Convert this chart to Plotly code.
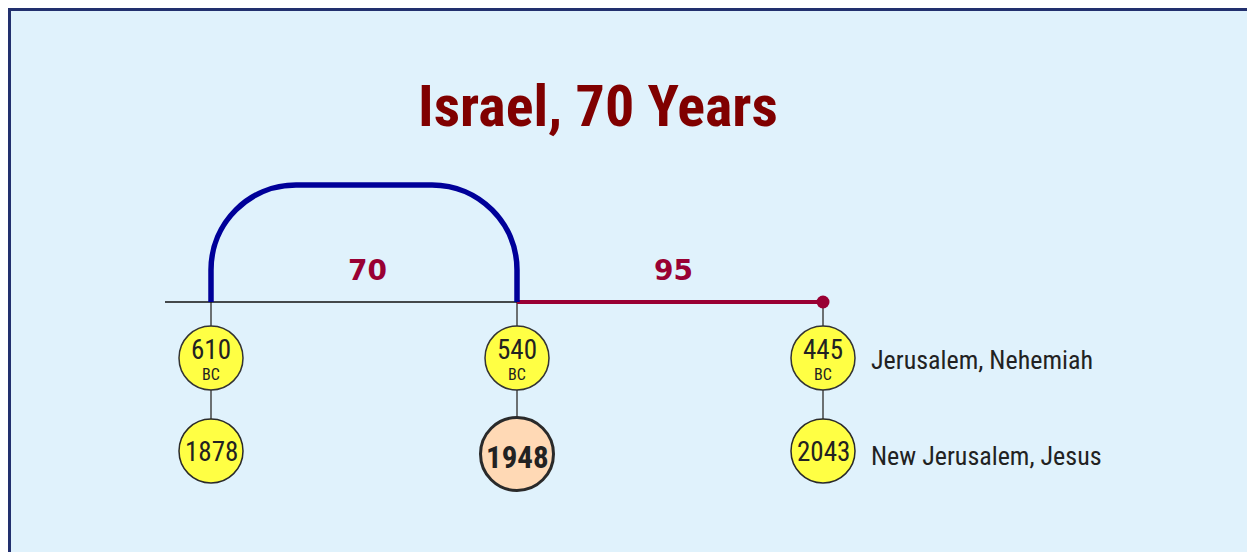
import plotly.graph_objects as go

# ---------------- data ----------------
title_text = "Israel, 70 Years"
bc_years = [610, 540, 445]
bc_suffix = "BC"
modern_years = [1878, 1948, 2043]
span_years = [70, 95]
highlight_year = 1948
right_labels = ["Jerusalem, Nehemiah", "New Jerusalem, Jesus"]

# ---------------- layout constants ----------------
W, H = 1255, 552
OFF = 8                      # page body margin in the browser
X0, STEP = 211 - OFF, 306    # paper pixel of first node, pixels per node step
def ux(px):                  # pixel distance -> x-axis units
    return px / STEP
XR = [-X0 / STEP, (W - X0) / STEP]

# y axis expressed in page pixels (range offset by body margin)
Y_LINE = 302
Y_ROW1 = 358
Y_ROW2 = 451
Y_ARC_TOP = 185
ARC_R = 85

NARROW = "Liberation Sans Narrow, Arial Narrow, Roboto Condensed, DejaVu Sans Condensed, sans-serif"
YELLOW = "#FFFF44"
PEACH = "#FFD9B5"
CRIMSON = "#990033"
BLUE = "#000099"
BG = "#E0F2FC"
NAVY = "#22306E"

idx = list(range(len(bc_years)))

fig = go.Figure()

# vertical connectors
cx, cy = [], []
for i in idx:
    cx += [i, i, None]
    cy += [Y_LINE, Y_ROW2, None]
fig.add_trace(go.Scatter(x=cx, y=cy, mode="lines",
                         line=dict(color="#444444", width=1.5),
                         hoverinfo="skip", showlegend=False))

# thin black timeline up to the end of the 70-year span
fig.add_trace(go.Scatter(x=[idx[0] - ux(46), idx[1]], y=[Y_LINE, Y_LINE], mode="lines",
                         line=dict(color="#111111", width=1.3),
                         hoverinfo="skip", showlegend=False))

# crimson 95-year span with end dot
fig.add_trace(go.Scatter(x=[idx[1], idx[2]], y=[Y_LINE, Y_LINE], mode="lines",
                         line=dict(color=CRIMSON, width=4),
                         hoverinfo="skip", showlegend=False))
fig.add_trace(go.Scatter(x=[idx[2]], y=[Y_LINE], mode="markers",
                         marker=dict(color=CRIMSON, size=13, opacity=1),
                         hoverinfo="skip", showlegend=False))

# blue 70-year arch (rounded bracket)
k = 0.5523
xa, xb = idx[0], idx[1]
rx, ry = ux(ARC_R), ARC_R
yt, yl = Y_ARC_TOP, Y_LINE
path = (f"M {xa},{yl} L {xa},{yt+ry} "
        f"C {xa},{yt+ry-k*ry} {xa+rx-k*rx},{yt} {xa+rx},{yt} "
        f"L {xb-rx},{yt} "
        f"C {xb-rx+k*rx},{yt} {xb},{yt+ry-k*ry} {xb},{yt+ry} "
        f"L {xb},{yl}")
fig.add_shape(type="path", path=path, xref="x", yref="y",
              line=dict(color=BLUE, width=5.5), layer="above")

# row 1 circles (BC)
fig.add_trace(go.Scatter(x=idx, y=[Y_ROW1] * len(idx), mode="markers",
                         marker=dict(size=64, color=YELLOW, opacity=1,
                                     line=dict(color="#333333", width=1.5)),
                         hoverinfo="skip", showlegend=False))

# row 2 circles (modern)
sizes = [73 if y == highlight_year else 64 for y in modern_years]
colors = [PEACH if y == highlight_year else YELLOW for y in modern_years]
lws = [3 if y == highlight_year else 1.5 for y in modern_years]
fig.add_trace(go.Scatter(x=idx, y=[Y_ROW2 + (3 if y == highlight_year else 0) for y in modern_years],
                         mode="markers",
                         marker=dict(size=sizes, color=colors, opacity=1,
                                     line=dict(color="#2a2a2a", width=lws)),
                         hoverinfo="skip", showlegend=False))

ann = []
# title
ann.append(dict(x=(598 - OFF) / W, y=1 - (106 - OFF) / H, xref="paper", yref="paper",
                xanchor="center", yanchor="middle",
                text=f"<b>{title_text}</b>", showarrow=False,
                font=dict(family=NARROW, size=58, color="#800000")))
# span labels
for j, s in enumerate(span_years):
    ann.append(dict(x=(idx[j] + idx[j + 1]) / 2 + ux(3), y=Y_LINE - 32, xref="x", yref="y",
                    text=f"<b>{s}</b>", showarrow=False,
                    font=dict(family="DejaVu Sans, Verdana, sans-serif", size=28, color=CRIMSON)))
# circle texts (year + BC as one two-line label; base size sets the line spacing)
for i, y in zip(idx, bc_years):
    ann.append(dict(x=i, y=Y_ROW1 + 1, xref="x", yref="y",
                    text=f"<span style='font-size:27px'>{y}</span><br>{bc_suffix}",
                    showarrow=False, borderpad=0,
                    font=dict(family=NARROW, size=16, color="#222222")))
for i, y in zip(idx, modern_years):
    if y == highlight_year:
        ann.append(dict(x=i, y=Y_ROW2 + 6, xref="x", yref="y", text=f"<b>{y}</b>", showarrow=False,
                        font=dict(family=NARROW, size=31, color="#222222")))
    else:
        ann.append(dict(x=i, y=Y_ROW2 + 1, xref="x", yref="y", text=str(y), showarrow=False,
                        font=dict(family=NARROW, size=27, color="#222222")))
# right-hand labels
for lab, yy in zip(right_labels, [Y_ROW1 + 2, Y_ROW2 + 5]):
    ann.append(dict(x=idx[-1] + ux(46), y=yy, xref="x", yref="y", text=lab, showarrow=False,
                    xanchor="left",
                    font=dict(family=NARROW, size=26, color="#222222")))

# frame / background (paper edge)
fig.add_shape(type="rect", xref="paper", yref="paper",
              x0=1.5 / W, x1=1.02, y0=-0.05, y1=1 - 1.5 / H,
              fillcolor=BG, line=dict(color=NAVY, width=3), layer="below")

fig.update_layout(
    width=W, height=H,
    margin=dict(l=0, r=0, t=0, b=0),
    paper_bgcolor="white",
    plot_bgcolor="rgba(0,0,0,0)",
    showlegend=False,
    annotations=ann,
    xaxis=dict(range=XR, visible=False, fixedrange=True),
    yaxis=dict(range=[H + OFF, OFF], visible=False, fixedrange=True),
)

fig.write_html("out.html")
